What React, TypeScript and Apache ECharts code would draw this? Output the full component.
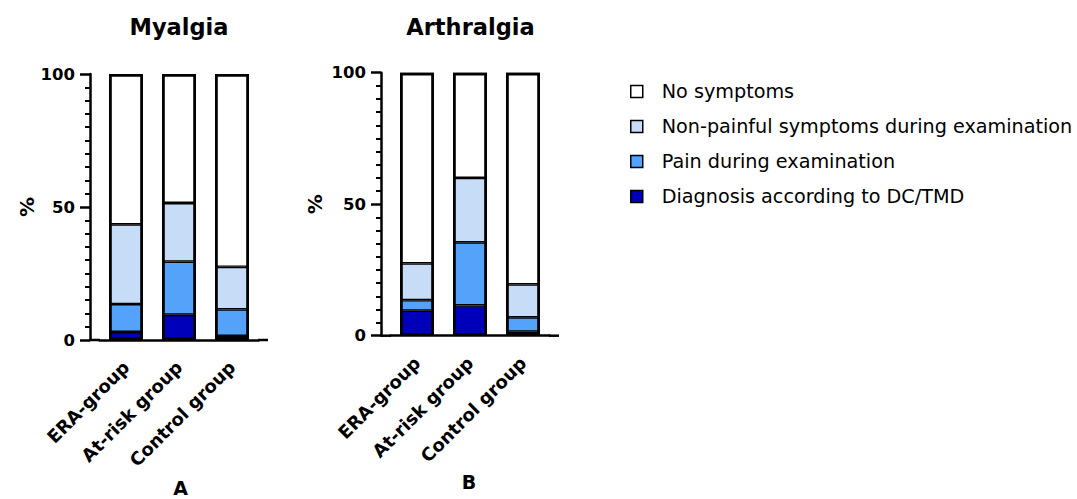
import React, { useEffect, useRef } from "react";
import * as echarts from "echarts";

const categories = ["ERA-group", "At-risk group", "Control group"];
const seriesNames = [
  "Diagnosis according to DC/TMD",
  "Pain during examination",
  "Non-painful symptoms during examination",
  "No symptoms",
];
const legendOrder = [
  "No symptoms",
  "Non-painful symptoms during examination",
  "Pain during examination",
  "Diagnosis according to DC/TMD",
];
const colors = ["#0000BB", "#55A2FB", "#C7DCF6", "#FFFFFF"];

// Myalgia (A): segment percentages per category
const myalgiaDiagnosis = [3, 9.5, 1.5];
const myalgiaPain = [10.5, 20, 10];
const myalgiaNonPainful = [30, 22, 16];
const myalgiaNone = [56.5, 48.5, 72.5];

// Arthralgia (B)
const arthralgiaDiagnosis = [9.5, 11.5, 1.5];
const arthralgiaPain = [4, 24, 5.5];
const arthralgiaNonPainful = [14, 24.5, 12.5];
const arthralgiaNone = [72.5, 40, 80.5];

const yTicks = { min: 0, max: 100, interval: 50 };

const FONT = "DejaVu Sans, Liberation Sans, Arial, sans-serif";

export default function App() {
  const ref = useRef<HTMLDivElement>(null);
  useEffect(() => {
    if (!ref.current) return;
    const chart = echarts.init(ref.current, undefined, { renderer: "svg" });
    const groups = [
      [myalgiaDiagnosis, myalgiaPain, myalgiaNonPainful, myalgiaNone],
      [arthralgiaDiagnosis, arthralgiaPain, arthralgiaNonPainful, arthralgiaNone],
    ];
    const grids = [
      { left: 99.5, top: 74, width: 159, height: 266 },
      { left: 390.5, top: 72.7, width: 159, height: 263 },
    ];
    const xAxes = grids.map((_, i) => ({
      type: "category",
      gridIndex: i,
      data: categories,
      axisLine: { lineStyle: { color: "#000", width: 2.5 } },
      axisTick: { alignWithLabel: true, length: 8, lineStyle: { color: "#000", width: 2.5 } },
      axisLabel: {
        rotate: 45,
        margin: 24,
        color: "#000",
        fontFamily: FONT,
        fontWeight: "bold",
        fontSize: 18,
      },
    }));
    const yAxes = grids.map((_, i) => ({
      type: "value",
      gridIndex: i,
      min: yTicks.min,
      max: yTicks.max,
      interval: yTicks.interval,
      offset: 9.5,
      name: "%",
      nameLocation: "middle",
      nameGap: i === 0 ? 53 : 56,
      nameTextStyle: { color: "#000", fontFamily: FONT, fontWeight: "bold", fontSize: 20 },
      axisLine: { show: true, lineStyle: { color: "#000", width: 2.5 } },
      axisTick: { show: true, length: 10, lineStyle: { color: "#000", width: 2.5 } },
      minorTick: { show: true, splitNumber: 10, length: 5, lineStyle: { color: "#000", width: 2 } },
      splitLine: { show: false },
      minorSplitLine: { show: false },
      axisLabel: {
        margin: 15,
        color: "#000",
        fontFamily: FONT,
        fontWeight: "bold",
        fontSize: 16.5,
      },
    }));
    const series: any[] = [];
    groups.forEach((g, gi) => {
      g.forEach((vals, si) => {
        series.push({
          type: "bar",
          name: seriesNames[si],
          xAxisIndex: gi,
          yAxisIndex: gi,
          stack: "s" + gi,
          barWidth: 34,
          barGap: "-100%",
          data: vals,
          itemStyle: { color: colors[si], borderColor: "#000", borderWidth: 1.4 },
          emphasis: { disabled: true },
        });
      });
      // outline of the whole stacked bar (sum of segments)
      const totals = g[0].map((_, ci) => g.reduce((s, arr) => s + arr[ci], 0));
      series.push({
        type: "bar",
        name: "outline" + gi,
        xAxisIndex: gi,
        yAxisIndex: gi,
        barWidth: 34,
        barGap: "-100%",
        data: totals,
        z: 3,
        silent: true,
        itemStyle: { color: "rgba(0,0,0,0)", borderColor: "#000", borderWidth: 2.8 },
        emphasis: { disabled: true },
      });
    });
    const axisExt = (x1: number, x2: number, y: number) => ({
      type: "line",
      shape: { x1, y1: y, x2, y2: y },
      style: { stroke: "#000", lineWidth: 2.5 },
    });
    const txt = (text: string, x: number, y: number, size: number) => ({
      type: "text",
      x,
      y,
      style: {
        text,
        fill: "#000",
        font: `bold ${size}px ${FONT}`,
        textAlign: "center",
        textVerticalAlign: "middle",
      },
    });
    chart.setOption({
      animation: false,
      backgroundColor: "#fff",
      grid: grids,
      xAxis: xAxes,
      yAxis: yAxes,
      series,
      legend: {
        orient: "vertical",
        left: 625,
        top: 77,
        data: legendOrder,
        selectedMode: false,
        icon: "rect",
        itemWidth: 12,
        itemHeight: 12,
        itemGap: 16,
        itemStyle: { borderColor: "#000", borderWidth: 1.5 },
        textStyle: {
          color: "#000",
          fontFamily: FONT,
          fontSize: 19.2,
          padding: [0, 0, 0, 14],
        },
      },
      graphic: [
        axisExt(90, 100, 340),
        axisExt(258, 268, 340),
        axisExt(381, 391, 335.7),
        axisExt(549, 559, 335.7),
        txt("Myalgia", 179, 27, 22.5),
        txt("Arthralgia", 470.5, 27, 22.5),
        txt("A", 180.5, 488, 19),
        txt("B", 469, 482, 19),
      ],
    });
    return () => chart.dispose();
  }, []);
  return (
    <div
      ref={ref}
      style={{ position: "fixed", left: 0, top: 0, width: 1077, height: 499, background: "#fff" }}
    />
  );
}
